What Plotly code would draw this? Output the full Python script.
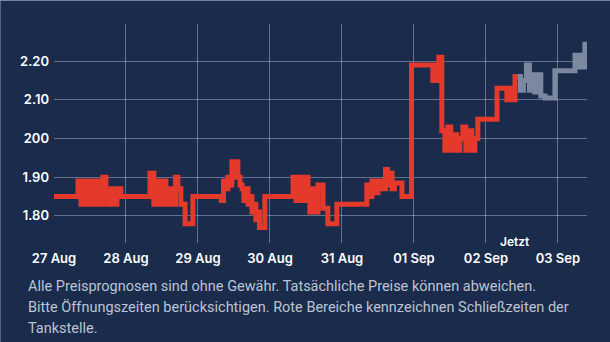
import pandas as pd
import plotly.graph_objects as go

start = pd.Timestamp("2023-08-27 00:00")

# past / actual prices (hours after 27 Aug 00:00, price)
red_hours = [0, 8, 9, 10, 11, 12, 13, 14, 15, 16.3, 17.3, 18, 19, 20, 21, 22.3,
             32, 33.3, 34.3, 35.3, 36.3, 37.3, 38.3, 39.3, 40.5, 41.3, 42.3, 43.7, 46.3,
             55.8, 56.5, 57.3, 58, 58.7, 59.3, 60, 60.7, 61.3, 62, 62.7, 63.3, 64, 64.7,
             65.3, 66, 66.7, 67.3, 68, 68.5, 70.3,
             79.7, 80.7, 81.7, 82.7, 83.7, 84.7, 85.3, 86.3, 87, 88, 89.7, 91.3, 94.3,
             104.3, 105, 106, 107, 108, 109, 110.5, 111.2, 112, 112.7, 113.5, 116, 119.2,
             126.3, 127, 127.7, 128.3, 129.3, 130.3, 131.3, 132.3, 133.3, 134.3, 135.3,
             136.3, 137.3, 138.3, 139.3, 140.3, 141.3, 147.7, 151, 152, 153, 153.7, 154.7]
red_prices = [1.85, 1.89, 1.83, 1.89, 1.83, 1.89, 1.83, 1.89, 1.83, 1.90, 1.86, 1.83, 1.87, 1.83, 1.87, 1.85,
              1.91, 1.83, 1.89, 1.83, 1.89, 1.83, 1.87, 1.83, 1.90, 1.87, 1.83, 1.78, 1.85,
              1.84, 1.89, 1.87, 1.90, 1.88, 1.94, 1.90, 1.94, 1.90, 1.88, 1.87, 1.84, 1.87, 1.83,
              1.85, 1.81, 1.83, 1.79, 1.81, 1.77, 1.85,
              1.90, 1.84, 1.90, 1.84, 1.90, 1.86, 1.81, 1.87, 1.81, 1.88, 1.82, 1.78, 1.83,
              1.88, 1.85, 1.89, 1.86, 1.89, 1.87, 1.92, 1.88, 1.91, 1.87, 1.885, 1.85, 2.19,
              2.15, 2.19, 2.15, 2.21, 2.02, 1.97, 2.03, 1.97, 2.01, 1.97, 2.00,
              2.03, 1.97, 2.02, 1.97, 2.00, 2.05, 2.13, 2.10, 2.13, 2.10, 2.16, 2.16]

# forecast prices
gray_hours = [154.7, 155.5, 156.5, 157.5, 158.5, 159.3, 160.3, 161.3, 162.3, 163.7,
              167, 173.7, 174.7, 175.7, 176.3, 177]
gray_prices = [2.16, 2.125, 2.15, 2.19, 2.125, 2.165, 2.12, 2.165, 2.11, 2.105,
               2.175, 2.215, 2.185, 2.215, 2.185, 2.25]

y_tickvals = [1.80, 1.90, 2.00, 2.10, 2.20]
y_ticktext = ["1.80", "1.90", "200", "2.10", "2.20"]

caption_lines = [
    "Alle Preisprognosen sind ohne Gewähr. Tatsächliche Preise können abweichen.",
    "Bitte Öffnungszeiten berücksichtigen. Rote Bereiche kennzeichnen Schließzeiten der",
    "Tankstelle.",
]
now_hour = 153.7

def to_dt(hours):
    return [start + pd.Timedelta(hours=h) for h in hours]

BG = "#1b2b4b"
fig = go.Figure()
fig.add_trace(go.Scatter(x=to_dt(red_hours), y=red_prices, mode="lines",
                         line=dict(shape="hv", color="#e5392b", width=5),
                         hoverinfo="skip", showlegend=False))
fig.add_trace(go.Scatter(x=to_dt(gray_hours), y=gray_prices, mode="lines",
                         line=dict(shape="hv", color="#7c889f", width=5),
                         hoverinfo="skip", showlegend=False))

W, H = 610, 342
ml, mr, mt, mb = 54, 23, 24, 99
pw, ph = W - ml - mr, H - mt - mb

fig.update_layout(
    width=W, height=H,
    margin=dict(l=ml, r=mr, t=mt, b=mb, pad=0),
    paper_bgcolor=BG, plot_bgcolor=BG,
    font=dict(family="Inter, Roboto, sans-serif", color="white"),
    xaxis=dict(
        range=[start, start + pd.Timedelta(hours=177.7)],
        type="date", tick0=start, dtick=86400000, tickformat="%d %b",
        showgrid=True, gridcolor="rgba(190,200,225,0.45)", gridwidth=1,
        zeroline=False, showline=False, ticks="",
        tickfont=dict(size=13, color="white", weight=600),
        ticklabelstandoff=6,
    ),
    yaxis=dict(
        range=[1.73, 2.296],
        tickvals=y_tickvals, ticktext=y_ticktext,
        showgrid=True, gridcolor="rgba(190,200,225,0.45)", gridwidth=1,
        zeroline=False, showline=False, ticks="",
        tickfont=dict(size=13, color="white", weight=600),
        ticklabelstandoff=4,
    ),
)

for i, line in enumerate(caption_lines):
    fig.add_annotation(text=line, xref="paper", yref="paper",
                       x=(26 - ml) / pw, y=-(286 + 21 * i - mt - ph) / ph,
                       xanchor="left", yanchor="middle", showarrow=False,
                       font=dict(family="Roboto, sans-serif", size=14.5, color="#bcc4d3"))

fig.add_annotation(text="Jetzt", xref="x", yref="paper",
                   x=start + pd.Timedelta(hours=now_hour), y=0, yshift=2,
                   xanchor="center", yanchor="middle", showarrow=False,
                   font=dict(size=12, color="white", weight=600))

# card border (top and left)
fig.add_shape(type="line", xref="paper", yref="paper",
              x0=-ml / pw, x1=1 + mr / pw, y0=1 + (mt - 0.5) / ph, y1=1 + (mt - 0.5) / ph,
              line=dict(color="rgba(140,155,185,0.8)", width=1))
fig.add_shape(type="line", xref="paper", yref="paper",
              x0=-(ml - 0.5) / pw, x1=-(ml - 0.5) / pw, y0=-mb / ph, y1=1 + mt / ph,
              line=dict(color="rgba(140,155,185,0.5)", width=1))

fig.write_html("out.html")
